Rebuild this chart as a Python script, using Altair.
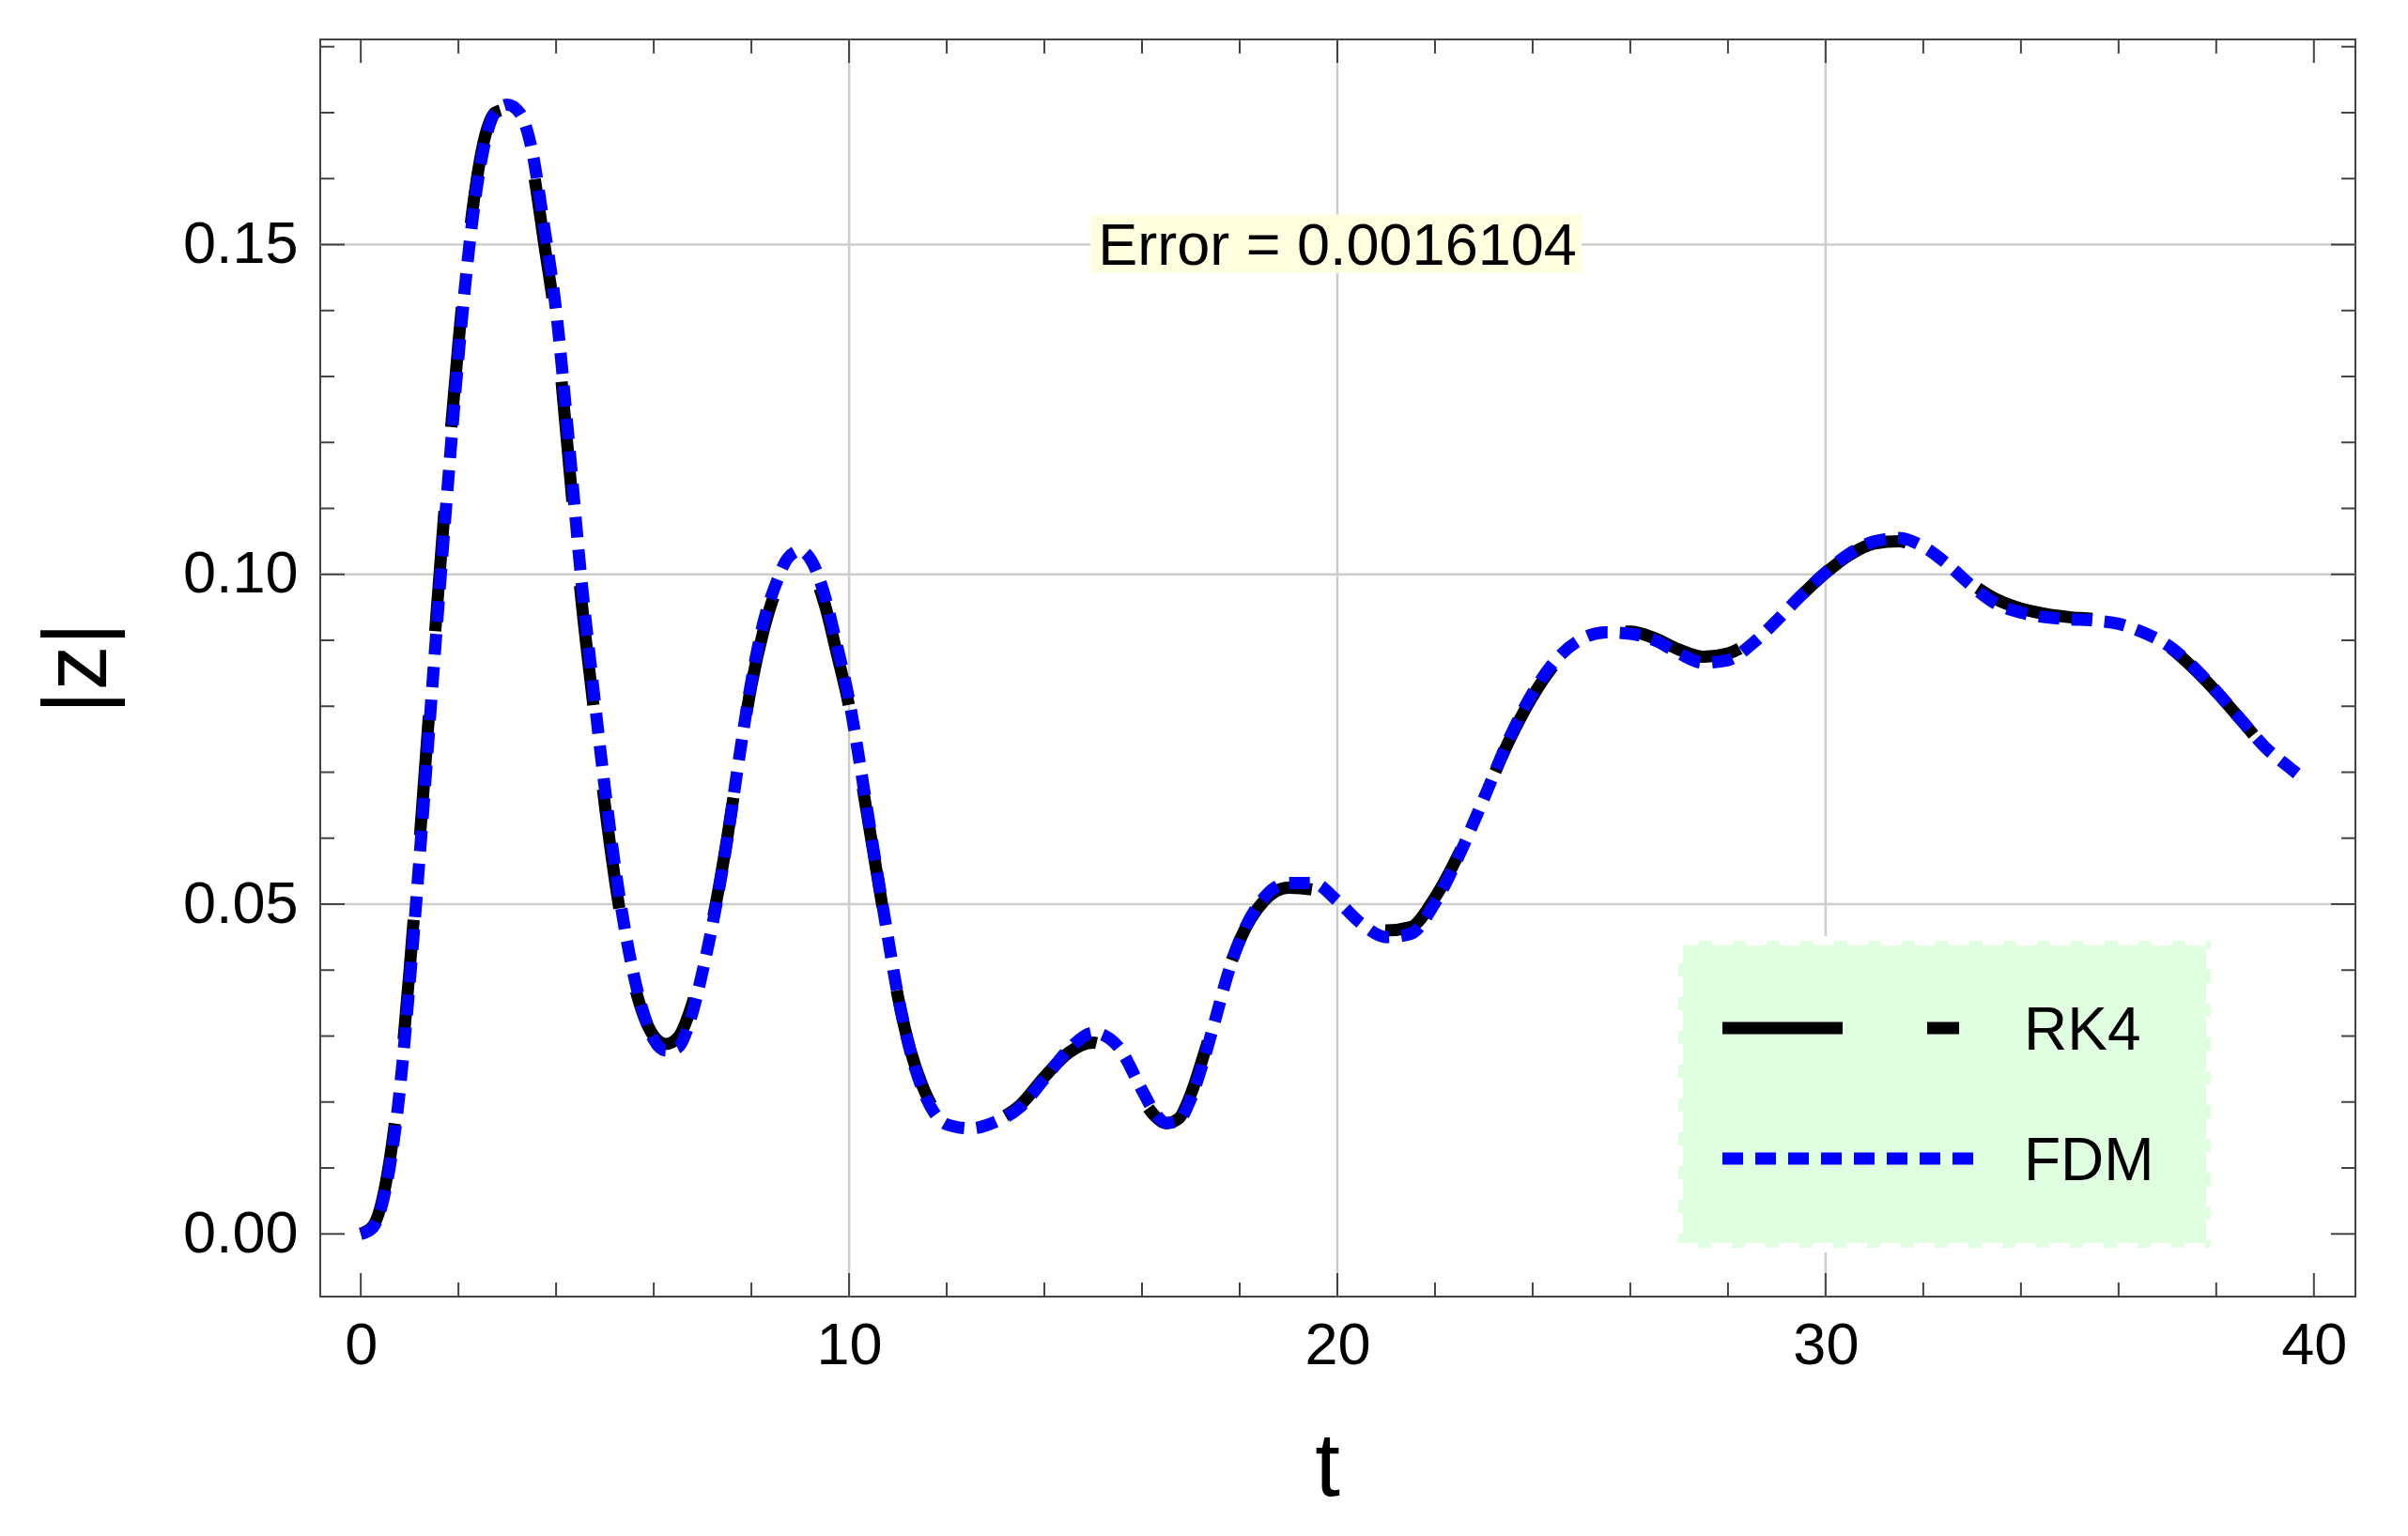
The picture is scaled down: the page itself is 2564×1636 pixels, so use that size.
import altair as alt
import pandas as pd

# ---------------- data ----------------
t_vals = [0, 0.25, 0.5, 0.75, 1.0, 1.25, 1.5, 1.75, 2.0, 2.25, 2.5, 2.75, 3.0, 3.25, 3.5, 3.75,
          4.0, 4.25, 4.5, 4.75, 5.0, 5.25, 5.5, 5.75, 6.0, 6.25, 6.5, 6.75, 7.0, 7.25, 7.5, 7.75,
          8.0, 8.25, 8.5, 8.75, 9.0, 9.25, 9.5, 9.75, 10.0, 10.25, 10.5, 10.75, 11.0, 11.25, 11.5,
          11.75, 12.0, 12.5, 13.0, 13.5, 14.0, 14.5, 15.0, 15.5, 16.0, 16.25, 16.5, 16.75, 17.0,
          17.25, 17.5, 17.75, 18.0, 18.5, 19.0, 19.5, 20.0, 20.5, 21.0, 21.5, 22.0, 22.5, 23.0,
          23.5, 24.0, 24.5, 25.0, 25.5, 26.0, 26.5, 27.0, 27.5, 28.0, 28.5, 29.0, 29.5, 30.0,
          30.5, 31.0, 31.5, 32.0, 32.5, 33.0, 33.5, 34.0, 34.5, 35.0, 35.5, 36.0, 36.5, 37.0,
          37.5, 38.0, 38.5, 39.0, 39.5, 39.7]

rk4_vals = [0.0, 0.0012, 0.0072, 0.020, 0.040, 0.064, 0.089, 0.113, 0.135, 0.153, 0.1650, 0.1700,
            0.1705, 0.1685, 0.1625, 0.1505, 0.1375, 0.1180, 0.0975, 0.0810, 0.0650, 0.0515, 0.0410,
            0.0340, 0.0300, 0.0288, 0.0298, 0.0340, 0.0408, 0.0492, 0.0598, 0.0720, 0.0832, 0.0915,
            0.0975, 0.1012, 0.1022, 0.1005, 0.0955, 0.0880, 0.0800, 0.0690, 0.0578, 0.0467, 0.0360,
            0.0280, 0.0225, 0.0188, 0.0170, 0.0163, 0.0172, 0.0195, 0.0238, 0.0275, 0.0290, 0.0265,
            0.0205, 0.0180, 0.0168, 0.0175, 0.0212, 0.0268, 0.0330, 0.0395, 0.0445, 0.0505, 0.0525,
            0.0522, 0.0500, 0.0475, 0.0460, 0.0465, 0.0510, 0.0578, 0.0660, 0.0745, 0.0815, 0.0868,
            0.0900, 0.0913, 0.0913, 0.0903, 0.0886, 0.0875, 0.0880, 0.0900, 0.0932, 0.0968, 0.1002,
            0.1030, 0.1047, 0.1050, 0.1035, 0.1012, 0.0985, 0.0962, 0.0948, 0.0940, 0.0935, 0.0932,
            0.0925, 0.0912, 0.0892, 0.0860, 0.0822, 0.0780, 0.0737, 0.0705, 0.0692]

fdm_vals = [0.0, 0.0010, 0.0065, 0.0185, 0.0380, 0.0615, 0.0865, 0.1105, 0.1330, 0.1515, 0.1640,
            0.1700, 0.1712, 0.1700, 0.1645, 0.1530, 0.1400, 0.1210, 0.1005, 0.0835, 0.0675, 0.0535,
            0.0425, 0.0345, 0.0295, 0.0278, 0.0283, 0.0325, 0.0398, 0.0487, 0.0595, 0.0722, 0.0838,
            0.0928, 0.0985, 0.1025, 0.1036, 0.1018, 0.0968, 0.0893, 0.0810, 0.0700, 0.0583, 0.0470,
            0.0362, 0.0278, 0.0220, 0.0183, 0.0166, 0.0160, 0.0170, 0.0192, 0.0235, 0.0280, 0.0305,
            0.0285, 0.0218, 0.0185, 0.0168, 0.0172, 0.0205, 0.0260, 0.0325, 0.0392, 0.0445, 0.0510,
            0.0532, 0.0532, 0.0505, 0.0470, 0.0450, 0.0455, 0.0502, 0.0575, 0.0660, 0.0748, 0.0820,
            0.0872, 0.0902, 0.0912, 0.0910, 0.0900, 0.0880, 0.0866, 0.0870, 0.0895, 0.0930, 0.0968,
            0.1003, 0.1032, 0.1050, 0.1055, 0.1042, 0.1015, 0.0982, 0.0955, 0.0942, 0.0935, 0.0932,
            0.0930, 0.0925, 0.0912, 0.0893, 0.0862, 0.0823, 0.0780, 0.0738, 0.0707, 0.0695]

series_names = ["RK4", "FDM"]
x_label_ticks = [0, 10, 20, 30, 40]
y_label_ticks = [0.0, 0.05, 0.10, 0.15]
x_minor_ticks = [2, 4, 6, 8, 12, 14, 16, 18, 22, 24, 26, 28, 32, 34, 36, 38]
y_minor_ticks = [0.01, 0.02, 0.03, 0.04, 0.06, 0.07, 0.08, 0.09, 0.11, 0.12, 0.13, 0.14,
                 0.16, 0.17, 0.18]
x_grid = [10, 20, 30]
y_grid = [0.05, 0.10, 0.15]
error_label = "Error = 0.0016104"
error_t = 20
error_z = 0.15

# ---------------- layout / style ----------------
W, H = 2167, 1339
FONT = "Liberation Sans"
FRAME = "#444444"
GRID = "#cccccc"

xs = alt.Scale(domain=[-0.83, 40.85], nice=False, zero=False)
ys = alt.Scale(domain=[-0.0095, 0.1811], nice=False, zero=False)

df = pd.DataFrame({"t": t_vals, "RK4": rk4_vals, "FDM": fdm_vals})
one = pd.DataFrame({"a": [0]})

x_axis = alt.Axis(values=x_label_ticks, grid=False, ticks=False, tickSize=0, domain=False,
                  labelFont=FONT, labelFontSize=63, labelColor="black", labelPadding=21,
                  labelFlush=False, title="t", titleFont=FONT, titleFontSize=96,
                  titleFontWeight="normal", titleColor="black", titleX=1072, titleY=211,
                  titleBaseline="alphabetic", titleAlign="center")
y_axis = alt.Axis(values=y_label_ticks, format=".2f", grid=False, ticks=False, tickSize=0,
                  domain=False, labelFont=FONT, labelFontSize=63, labelColor="black",
                  labelPadding=24, labelFlush=False, title="|z|", titleFont=FONT,
                  titleFontSize=96, titleFontWeight="normal", titleColor="black",
                  titleX=-258, titleY=669, titleAngle=270, titleBaseline="middle",
                  titleAlign="center")

# grid
grid_x = alt.Chart(pd.DataFrame({"g": x_grid})).mark_rule(color=GRID, strokeWidth=2.5).encode(
    x=alt.X("g:Q", scale=xs, axis=x_axis))
grid_y = alt.Chart(pd.DataFrame({"g": y_grid})).mark_rule(color=GRID, strokeWidth=2.5).encode(
    y=alt.Y("g:Q", scale=ys, axis=y_axis))

rk4 = alt.Chart(df).mark_line(color="black", strokeWidth=13, strokeDash=[128, 90],
                              interpolate="monotone").encode(
    x=alt.X("t:Q", scale=xs, axis=x_axis),
    y=alt.Y("RK4:Q", scale=ys, axis=y_axis))
fdm = alt.Chart(df).mark_line(color="#0000ff", strokeWidth=13, strokeDash=[22, 13],
                              interpolate="monotone").encode(
    x=alt.X("t:Q", scale=xs, axis=x_axis),
    y=alt.Y("FDM:Q", scale=ys, axis=y_axis))

# error annotation
err_bg = alt.Chart(one).mark_rect(fill="#FFFFE0", xOffset=-263, x2Offset=260,
                                  yOffset=-32, y2Offset=30).encode(
    x=alt.datum(error_t, scale=xs, axis=x_axis), x2=alt.datum(error_t),
    y=alt.datum(error_z, scale=ys, axis=y_axis), y2=alt.datum(error_z))
err_txt = alt.Chart(one).mark_text(font=FONT, fontSize=63, color="black", align="center",
                                   baseline="middle", dy=3).encode(
    x=alt.datum(error_t, scale=xs, axis=x_axis), y=alt.datum(error_z, scale=ys, axis=y_axis),
    text=alt.value(error_label))

# legend (box in the lower right)
leg_bg = alt.Chart(one).mark_rect(fill="#E0FFE0", stroke="white", strokeWidth=10,
                                  strokeDash=[22, 14]).encode(
    x=alt.value(1446), x2=alt.value(2013), y=alt.value(960), y2=alt.value(1287))
leg_rk4 = alt.Chart(one).mark_rule(color="black", strokeWidth=13, strokeDash=[128, 90]).encode(
    x=alt.value(1493), x2=alt.value(1745), y=alt.value(1053))
leg_fdm = alt.Chart(one).mark_rule(color="#0000ff", strokeWidth=13, strokeDash=[22, 13]).encode(
    x=alt.value(1493), x2=alt.value(1760), y=alt.value(1192))
leg_t1 = alt.Chart(one).mark_text(font=FONT, fontSize=64, color="black", align="left",
                                  baseline="middle").encode(
    x=alt.value(1814), y=alt.value(1057), text=alt.value(series_names[0]))
leg_t2 = alt.Chart(one).mark_text(font=FONT, fontSize=64, color="black", align="left",
                                  baseline="middle").encode(
    x=alt.value(1814), y=alt.value(1196), text=alt.value(series_names[1]))

# inward ticks on all four sides
TC = FRAME
def xticks(vals, length):
    d = pd.DataFrame({"v": vals})
    b = alt.Chart(d).mark_rule(color=TC, strokeWidth=2).encode(
        x=alt.X("v:Q", scale=xs, axis=x_axis), y=alt.value(H), y2=alt.value(H - length))
    t = alt.Chart(d).mark_rule(color=TC, strokeWidth=2).encode(
        x=alt.X("v:Q", scale=xs, axis=x_axis), y=alt.value(0), y2=alt.value(length))
    return [b, t]

def yticks(vals, length):
    d = pd.DataFrame({"v": vals})
    l = alt.Chart(d).mark_rule(color=TC, strokeWidth=2).encode(
        y=alt.Y("v:Q", scale=ys, axis=y_axis), x=alt.value(0), x2=alt.value(length))
    r = alt.Chart(d).mark_rule(color=TC, strokeWidth=2).encode(
        y=alt.Y("v:Q", scale=ys, axis=y_axis), x=alt.value(W), x2=alt.value(W - length))
    return [l, r]

tick_layers = (xticks(x_label_ticks, 25) + xticks(x_minor_ticks, 15) +
               yticks(y_label_ticks, 26) + yticks(y_minor_ticks, 15))

chart = alt.layer(
    grid_x, grid_y, rk4, fdm, err_bg, err_txt,
    leg_bg, leg_rk4, leg_fdm, leg_t1, leg_t2, *tick_layers
).properties(
    width=W, height=H,
    autosize=alt.AutoSizeParams(type="none"),
    padding={"left": 333, "top": 34, "right": 40, "bottom": 240},
    background="white",
).configure_view(stroke=FRAME, strokeWidth=2)

chart.save("out.html", embed_options={"renderer": "svg", "actions": False})
